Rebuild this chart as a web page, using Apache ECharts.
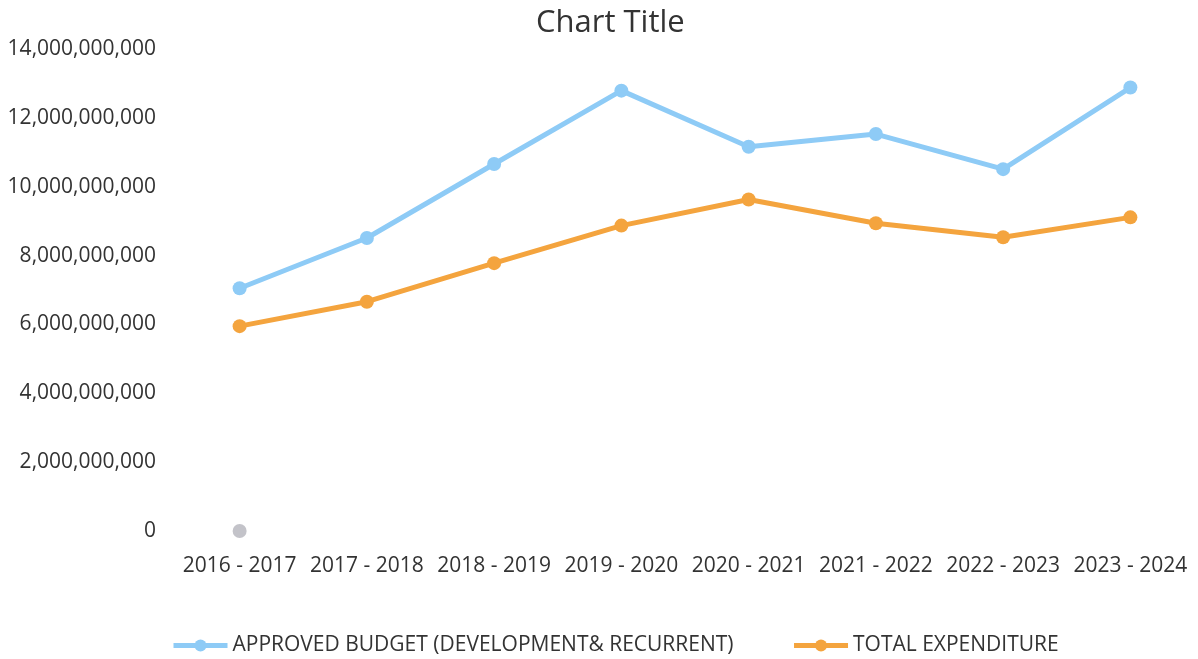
<!DOCTYPE html>
<html>
<head>
<meta charset="utf-8">
<script src="https://cdn.jsdelivr.net/npm/echarts@6/dist/echarts.min.js"></script>
<style>html,body{margin:0;padding:0;background:#fff;}#c{width:1198px;height:659px;}</style>
</head>
<body>
<div id="c"></div>
<script>
const categories = ['2016 - 2017','2017 - 2018','2018 - 2019','2019 - 2020','2020 - 2021','2021 - 2022','2022 - 2023','2023 - 2024'];
const approvedBudget = [7050000000, 8510000000, 10660000000, 12790000000, 11160000000, 11530000000, 10510000000, 12880000000];
const totalExpenditure = [5950000000, 6660000000, 7780000000, 8870000000, 9630000000, 8940000000, 8530000000, 9110000000];
const strayPoint = [[0, 0]];
const seriesNames = ['APPROVED BUDGET (DEVELOPMENT& RECURRENT)', 'TOTAL EXPENDITURE'];

const FONT = '"Open Sans", "Noto Sans", sans-serif';
const chart = echarts.init(document.getElementById('c'));
chart.setOption({
  animation: false,
  backgroundColor: '#ffffff',
  title: {
    text: 'Chart Title', left: 531, top: 3,
    textStyle: { fontFamily: FONT, fontSize: 31, fontWeight: 'normal', color: '#333333' }
  },
  legend: {
    data: seriesNames,
    left: 166, top: 630,
    itemWidth: 54, itemHeight: 15, itemGap: 58,
    lineStyle: { width: 5 },
    textStyle: { fontFamily: FONT, fontSize: 21, color: '#333333' }
  },
  grid: { left: 176, right: 4, top: 49, bottom: 128 },
  xAxis: {
    type: 'category', data: categories, boundaryGap: true,
    axisLine: { show: false }, axisTick: { show: false },
    axisLabel: { fontFamily: FONT, fontSize: 21, color: '#333333', margin: 25, interval: 0 }
  },
  yAxis: {
    type: 'value', min: 0, max: 14000000000, interval: 2000000000,
    splitLine: { show: false }, axisLine: { show: false }, axisTick: { show: false },
    axisLabel: {
      fontFamily: FONT, fontSize: 21, color: '#333333', margin: 20,
      formatter: v => v.toLocaleString('en-US')
    }
  },
  series: [
    {
      name: seriesNames[0], type: 'line', data: approvedBudget,
      symbol: 'circle', symbolSize: 14,
      lineStyle: { color: '#8ecbf6', width: 5 },
      itemStyle: { color: '#8ecbf6' }
    },
    {
      name: seriesNames[1], type: 'line', data: totalExpenditure,
      symbol: 'circle', symbolSize: 14,
      lineStyle: { color: '#f4a43e', width: 5 },
      itemStyle: { color: '#f4a43e' }
    },
    {
      name: 'stray', type: 'scatter', data: strayPoint,
      symbolSize: 14, itemStyle: { color: '#b4b4bc' }
    }
  ]
});
</script>
</body>
</html>
